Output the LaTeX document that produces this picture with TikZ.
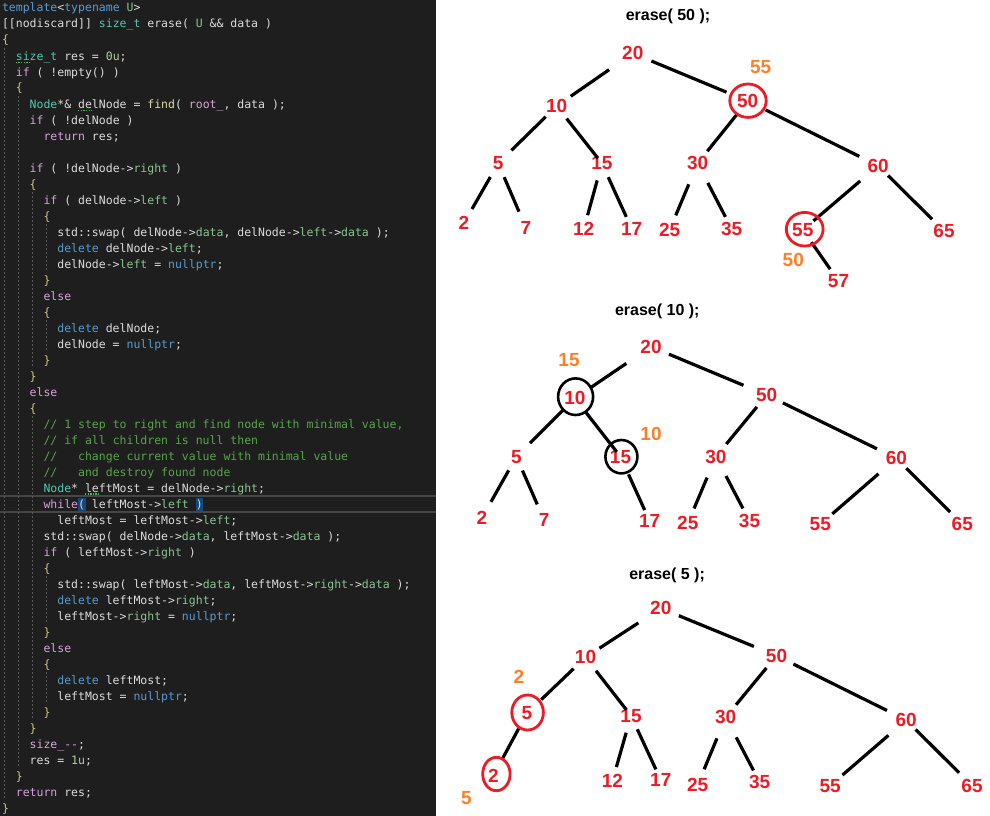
\documentclass[tikz,border=0pt]{standalone}
\usepackage{fontspec}
\newfontfamily\codefont{DejaVu Sans Mono}
\newfontfamily\labfont{Liberation Sans}
\usetikzlibrary{calc}
\definecolor{codebg}{HTML}{1E1E1E}
\definecolor{ctxt}{HTML}{DCDCDC}
\definecolor{ckw}{HTML}{569CD6}
\definecolor{cctl}{HTML}{D8A0DF}
\definecolor{ctyp}{HTML}{4EC9B0}
\definecolor{cfld}{HTML}{86C691}
\definecolor{cfn}{HTML}{DCDCAA}
\definecolor{cmem}{HTML}{D6A6D6}
\definecolor{cnum}{HTML}{B5CEA8}
\definecolor{ccmt}{HTML}{57A64A}
\definecolor{cbr}{HTML}{CFC58A}
\definecolor{cguide}{HTML}{5A5A5A}
\definecolor{ccur}{HTML}{464646}
\definecolor{cparen}{HTML}{124A7C}
\definecolor{csquig}{HTML}{3FBF3F}
\definecolor{pred}{HTML}{ED1C24}
\definecolor{porange}{HTML}{FF7F27}
\newcommand\Ckw[1]{\textcolor{ckw}{#1}}
\newcommand\Cctl[1]{\textcolor{cctl}{#1}}
\newcommand\Ctyp[1]{\textcolor{ctyp}{#1}}
\newcommand\Cfld[1]{\textcolor{cfld}{#1}}
\newcommand\Cfn[1]{\textcolor{cfn}{#1}}
\newcommand\Cmem[1]{\textcolor{cmem}{#1}}
\newcommand\Cnum[1]{\textcolor{cnum}{#1}}
\newcommand\Ccmt[1]{\textcolor{ccmt}{#1}}
\newcommand\Cbr[1]{\textcolor{cbr}{#1}}
\newcommand\cl[3]{\node[codeline] (c#1) at ({2+6.92*#2},{16*#1-4}) {#3};}
\newcommand\edg[4]{\draw[edge, shorten <=#3pt, shorten >=#4pt] (#1.center) -- (#2.center);}
\tikzset{
  codeline/.style={anchor=base west, inner sep=0, outer sep=0, text=ctxt,
    font=\codefont\fontsize{11.5}{14}\selectfont},
  guide/.style={draw=cguide, line width=1pt, dash pattern=on 2pt off 2pt},
  squig/.style={draw=csquig, line width=1.2pt, dash pattern=on 1.3pt off 1.3pt},
  num/.style={font=\labfont\bfseries\fontsize{19}{19}\selectfont, text=pred, inner sep=0},
  onum/.style={num, text=porange},
  ttl/.style={font=\labfont\bfseries\fontsize{16}{16}\selectfont, text=black, inner sep=0},
  edge/.style={line width=3.2pt, draw=black},
  ring/.style={line width=2.8pt, draw=pred},
  bring/.style={line width=2.6pt, draw=black}
}
\begin{document}
\begin{tikzpicture}[x=1pt, y=-1pt]
\useasboundingbox (0,0) rectangle (990,816);
\fill[white] (0,0) rectangle (990,816);
\fill[codebg] (0,0) rectangle (436,816);
% current line
\draw[ccur, line width=1.2pt] (0,496) -- (436,496) (0,512) -- (436,512);
\fill[cparen] (78,497.5) rectangle (85.5,511);
\fill[cparen] (195.5,497.5) rectangle (203,511);
% indent guides
\draw[guide] (4.5,48) -- (4.5,800);
\draw[guide] (18.3,96) -- (18.3,768);
\draw[guide] (32.2,192) -- (32.2,368);
\draw[guide] (32.2,416) -- (32.2,720);
\draw[guide] (46,224) -- (46,272);
\draw[guide] (46,320) -- (46,352);
\draw[guide] (46,576) -- (46,624);
\draw[guide] (46,672) -- (46,704);
% code
\cl{1}{0}{\Ckw{template}<\Ckw{typename} \Cfld{U}>}
\cl{2}{0}{[[nodiscard]] \Ctyp{size\_t} erase( \Cfld{U} \&\& data )}
\cl{3}{0}{\Cbr{\{}}
\cl{4}{2}{\Ctyp{size\_t} res = \Cnum{0u};}
\cl{5}{2}{\Cctl{if} ( !empty() )}
\cl{6}{2}{\Cbr{\{}}
\cl{7}{4}{\Ctyp{Node}*\& delNode = \Cfn{find}( \Cmem{root\_}, data );}
\cl{8}{4}{\Cctl{if} ( !delNode )}
\cl{9}{6}{\Cctl{return} res;}
\cl{11}{4}{\Cctl{if} ( !delNode->\Cfld{right} )}
\cl{12}{4}{\Cbr{\{}}
\cl{13}{6}{\Cctl{if} ( delNode->\Cfld{left} )}
\cl{14}{6}{\Cbr{\{}}
\cl{15}{8}{std::swap( delNode->\Cfld{data}, delNode->\Cfld{left}->\Cfld{data} );}
\cl{16}{8}{\Ckw{delete} delNode->\Cfld{left};}
\cl{17}{8}{delNode->\Cfld{left} = \Ckw{nullptr};}
\cl{18}{6}{\Cbr{\}}}
\cl{19}{6}{\Cctl{else}}
\cl{20}{6}{\Cbr{\{}}
\cl{21}{8}{\Ckw{delete} delNode;}
\cl{22}{8}{delNode = \Ckw{nullptr};}
\cl{23}{6}{\Cbr{\}}}
\cl{24}{4}{\Cbr{\}}}
\cl{25}{4}{\Cctl{else}}
\cl{26}{4}{\Cbr{\{}}
\cl{27}{6}{\Ccmt{// 1 step to right and find node with minimal value,}}
\cl{28}{6}{\Ccmt{// if all children is null then}}
\cl{29}{6}{\Ccmt{//\ \ \ change current value with minimal value}}
\cl{30}{6}{\Ccmt{//\ \ \ and destroy found node}}
\cl{31}{6}{\Ctyp{Node}* leftMost = delNode->\Cfld{right};}
\cl{32}{6}{\Cctl{while}( leftMost->\Cfld{left} )}
\cl{33}{8}{leftMost = leftMost->\Cfld{left};}
\cl{34}{6}{std::swap( delNode->\Cfld{data}, leftMost->\Cfld{data} );}
\cl{35}{6}{\Cctl{if} ( leftMost->\Cfld{right} )}
\cl{36}{6}{\Cbr{\{}}
\cl{37}{8}{std::swap( leftMost->\Cfld{data}, leftMost->\Cfld{right}->\Cfld{data} );}
\cl{38}{8}{\Ckw{delete} leftMost->\Cfld{right};}
\cl{39}{8}{leftMost->\Cfld{right} = \Ckw{nullptr};}
\cl{40}{6}{\Cbr{\}}}
\cl{41}{6}{\Cctl{else}}
\cl{42}{6}{\Cbr{\{}}
\cl{43}{8}{\Ckw{delete} leftMost;}
\cl{44}{8}{leftMost = \Ckw{nullptr};}
\cl{45}{6}{\Cbr{\}}}
\cl{46}{4}{\Cbr{\}}}
\cl{47}{4}{\Cmem{size\_-{}-};}
\cl{48}{4}{res = \Cnum{1u};}
\cl{49}{2}{\Cbr{\}}}
\cl{50}{2}{\Cctl{return} res;}
\cl{51}{0}{\Cbr{\}}}
% squiggles
\draw[squig] (15.8,62.5) -- (29.7,62.5);
\draw[squig] (78.1,110.5) -- (92,110.5);
\draw[squig] (85,494) -- (99,494);
% ---------- tree 1 ----------
\node[ttl] (t1) at (668,16.7) {erase( 50 );};
\node[num] (a20) at (632.8,53.3) {20};
\node[onum] (a55o) at (760.7,66.7) {55};
\node[num] (a10) at (556.7,106) {10};
\node[num] (a50) at (747.7,101) {50};
\node[num] (a5) at (498.2,163.3) {5};
\node[num] (a15) at (601.9,163.3) {15};
\node[num] (a30) at (697.6,163.3) {30};
\node[num] (a60) at (878.1,165.7) {60};
\node[num] (a2) at (463.8,223.3) {2};
\node[num] (a7) at (525.9,227.7) {7};
\node[num] (a12) at (583.7,229.3) {12};
\node[num] (a17) at (631.7,228.7) {17};
\node[num] (a25) at (669.6,230) {25};
\node[num] (a35) at (731.6,228.7) {35};
\node[num] (a55) at (802.8,230) {55};
\node[num] (a65) at (944,231) {65};
\node[onum] (a50o) at (793.3,260) {50};
\node[num] (a57) at (838.5,281) {57};
\edg{a20}{a10}{28.8}{17.1}
\edg{a20}{a50}{20.1}{23}
\edg{a10}{a5}{15.5}{18.5}
\edg{a10}{a15}{16}{6.6}
\edg{a50}{a30}{17.9}{15.5}
\edg{a50}{a60}{20}{21}
\edg{a5}{a2}{15.8}{16.5}
\edg{a5}{a7}{15.1}{17.5}
\edg{a15}{a12}{17.7}{14.6}
\edg{a15}{a17}{15.3}{13}
\edg{a30}{a25}{22.8}{15.9}
\edg{a30}{a35}{22.1}{13.4}
\edg{a60}{a55}{23.6}{14}
\edg{a60}{a65}{14}{16.8}
\edg{a55}{a57}{14.9}{14.5}
\draw[ring] (748,100.7) ellipse [x radius=18.2, y radius=16.7];
\draw[ring] (804.7,229.2) ellipse [x radius=18.4, y radius=16.8];
% ---------- tree 2 ----------
\node[ttl] (t2) at (657.3,311.7) {erase( 10 );};
\node[num] (b20) at (651,346.7) {20};
\node[onum] (b15o) at (569,360) {15};
\node[num] (b10) at (574.9,398.3) {10};
\node[num] (b50) at (766.7,395) {50};
\node[onum] (b10o) at (651,434.3) {10};
\node[num] (b5) at (516.4,456.7) {5};
\node[num] (b15) at (620.5,456.7) {15};
\node[num] (b30) at (715.9,456.7) {30};
\node[num] (b60) at (896.4,458.3) {60};
\node[num] (b2) at (482,517.7) {2};
\node[num] (b7) at (544.1,520) {7};
\node[num] (b17) at (649.6,521) {17};
\node[num] (b25) at (687.8,523.3) {25};
\node[num] (b35) at (749.5,521) {35};
\node[num] (b55) at (820.3,524.3) {55};
\node[num] (b65) at (962.3,524.3) {65};
\edg{b20}{b10}{29.8}{20.2}
\edg{b20}{b50}{19.5}{25.2}
\edg{b10}{b5}{15.5}{19.3}
\edg{b10}{b15}{18.2}{6.1}
\edg{b50}{b30}{15.4}{16.4}
\edg{b50}{b60}{18}{21.7}
\edg{b5}{b2}{15.7}{18.2}
\edg{b5}{b7}{15.1}{17.1}
\edg{b15}{b17}{19.4}{12}
\edg{b30}{b25}{22.7}{16.1}
\edg{b30}{b35}{21.8}{14.2}
\edg{b60}{b55}{23.7}{15.9}
\edg{b60}{b65}{14}{17.4}
\draw[bring] (575.6,396.7) ellipse [x radius=17.5, y radius=18.3];
\draw[bring] (621.4,456.7) ellipse [x radius=16, y radius=16.7];
% ---------- tree 3 ----------
\node[ttl] (t3) at (667.1,575) {erase( 5 );};
\node[num] (d20) at (660.8,608.3) {20};
\node[num] (d10) at (585.5,657.3) {10};
\node[num] (d50) at (776.5,655.7) {50};
\node[onum] (d2o) at (518.9,677.3) {2};
\node[num] (d5) at (526.9,713.3) {5};
\node[num] (d15) at (631,715.7) {15};
\node[num] (d30) at (725.7,717.3) {30};
\node[num] (d60) at (906.2,720) {60};
\node[num] (d2) at (493.3,775.7) {2};
\node[num] (d12) at (612.4,781) {12};
\node[num] (d17) at (660.8,780) {17};
\node[num] (d25) at (697.6,785) {25};
\node[num] (d35) at (759.7,782.3) {35};
\node[num] (d55) at (830.1,785.7) {55};
\node[num] (d65) at (972,785.7) {65};
\node[onum] (d5o) at (466.3,798.3) {5};
\edg{d20}{d10}{26.8}{16.6}
\edg{d20}{d50}{19.5}{24.4}
\edg{d10}{d5}{16.5}{19.9}
\edg{d10}{d15}{17.1}{7.4}
\edg{d50}{d30}{15.9}{16.3}
\edg{d50}{d60}{18.9}{21.5}
\edg{d5}{d2}{17.3}{18.5}
\edg{d15}{d12}{17.7}{14.5}
\edg{d15}{d17}{15}{11.7}
\edg{d30}{d25}{22.8}{17.1}
\edg{d30}{d35}{22.6}{13.4}
\edg{d60}{d55}{23.5}{16.3}
\edg{d60}{d65}{13.3}{18.2}
\draw[ring] (527.6,712.5) ellipse [x radius=15.8, y radius=17.5];
\draw[ring] (496.4,774) ellipse [x radius=13.7, y radius=16.7];
\end{tikzpicture}
\end{document}
